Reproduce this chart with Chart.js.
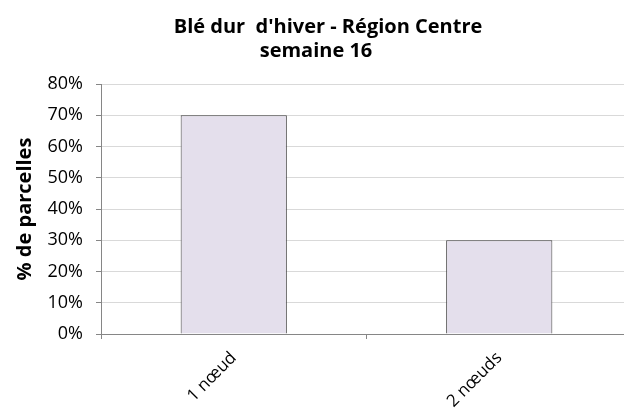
<!DOCTYPE html>
<html>
<head>
<meta charset="utf-8">
<script src="https://cdn.jsdelivr.net/npm/chart.js@4/dist/chart.umd.min.js"></script>
<style>
  html, body { margin: 0; padding: 0; background: #fff; overflow: hidden; }
</style>
</head>
<body>
<canvas id="bleChart" width="632" height="408"></canvas>
<script>
// data
const categories = ["1 nœud", "2 nœuds"];
const shares = [0.70, 0.30];
const titleLine1 = "Blé dur  d'hiver - Région Centre";
const titleLine2 = "semaine 16";
const yLabel = "% de parcelles";

const FONT = "'Open Sans'";

// move the first title line a bit right, like in the original
const nudgeTitle = {
    id: "nudgeTitle",
    afterLayout(chart) {
        const t = chart.titleBlock;
        if (t) { t.left += 12; t.right += 12; }
    }
};

new Chart(document.getElementById("bleChart"), {
    type: "bar",
    data: {
        labels: categories,
        datasets: [{
            label: "parcelles",
            data: shares,
            backgroundColor: "#e4dfec",
            borderColor: "#404040",
            borderWidth: 1,
            barPercentage: 0.4,
            categoryPercentage: 1
        }]
    },
    plugins: [nudgeTitle],
    options: {
        responsive: false,
        devicePixelRatio: 1,
        animation: false,
        plugins: {
            legend: { display: false },
            tooltip: { enabled: false },
            title: {
                display: true,
                text: titleLine1,
                color: "#000",
                font: { family: FONT, size: 20, weight: "bold", lineHeight: 1.2 },
                padding: { top: 15, bottom: 0 }
            },
            subtitle: {
                display: true,
                text: titleLine2,
                color: "#000",
                font: { family: FONT, size: 20, weight: "bold", lineHeight: 1.2 },
                padding: { top: 0, bottom: 21 }
            }
        },
        scales: {
            x: {
                offset: true,
                grid: {
                    offset: true,
                    drawOnChartArea: false,
                    tickLength: 5,
                    color: "#868686"
                },
                border: { color: "#868686" },
                ticks: {
                    minRotation: 45,
                    maxRotation: 45,
                    padding: 9,
                    color: "#000",
                    font: { family: FONT, size: 17 }
                },
                afterFit(scale) { scale.height = 74; }
            },
            y: {
                min: 0,
                max: 0.8,
                grid: {
                    color: "#d9d9d9",
                    tickColor: "#868686",
                    tickLength: 5
                },
                border: { color: "#868686" },
                ticks: {
                    stepSize: 0.1,
                    padding: 13,
                    color: "#000",
                    font: { family: FONT, size: 18 },
                    callback: v => Math.round(v * 100) + "%"
                },
                title: {
                    display: true,
                    text: yLabel,
                    color: "#000",
                    font: { family: FONT, size: 20, weight: "bold", lineHeight: 1.2 },
                    padding: { top: 13, bottom: 0 }
                },
                afterFit(scale) { scale.width = 101; }
            }
        }
    }
});
</script>
</body>
</html>
